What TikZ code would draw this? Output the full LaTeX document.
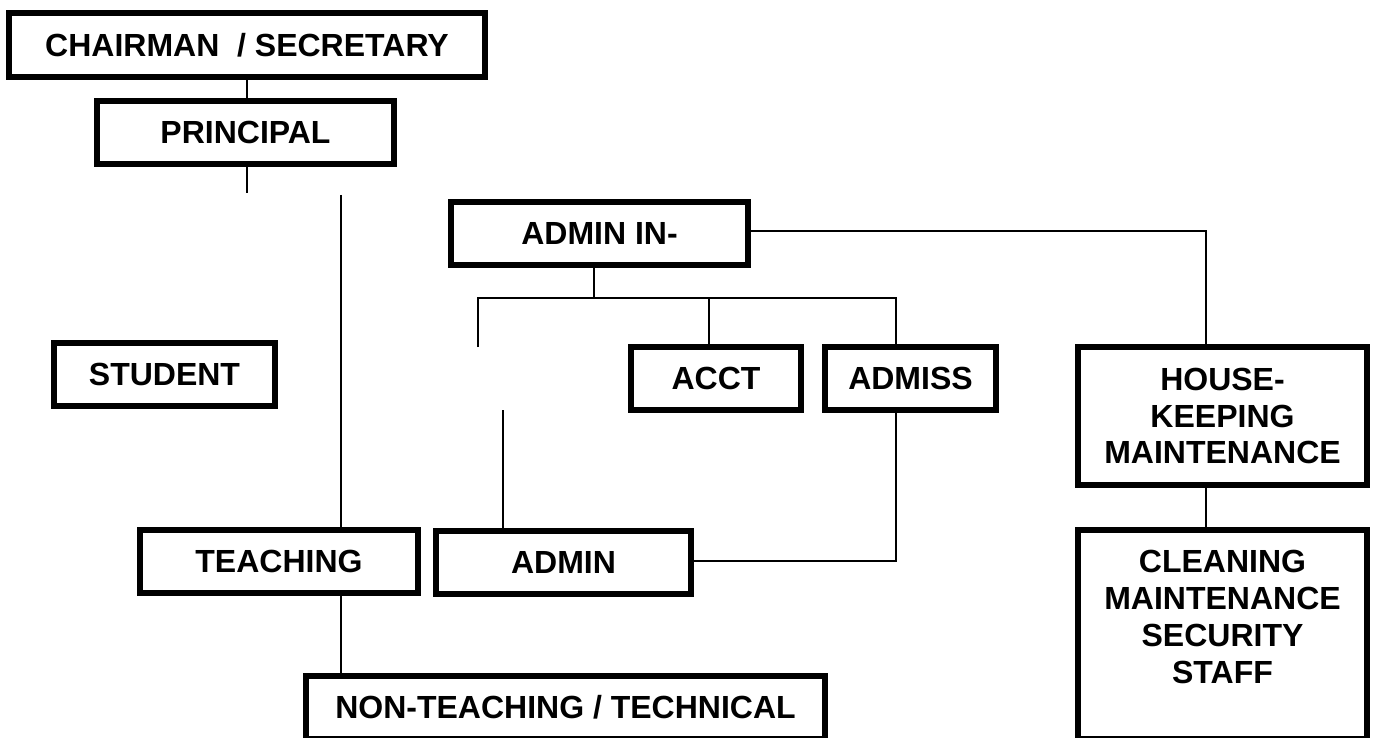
\documentclass[tikz,border=0pt]{standalone}
\usepackage{fontspec}
\setmainfont{Liberation Sans}
\begin{document}
\begin{tikzpicture}[x=1pt,y=-1pt,
  box/.style={draw=black, line width=6pt, fill=white, inner sep=0pt,
    font=\bfseries\fontsize{32}{36.5}\selectfont},
  multi/.style={align=center},
  link/.style={draw=black, line width=1.2pt}]
\useasboundingbox (0,0) rectangle (1374,738);
\clip (0,0) rectangle (1374,738);

% boxes
\node[box, minimum width=476pt, minimum height=64pt] (chair) at (247,45) {CHAIRMAN\ \ / SECRETARY};
\node[box, minimum width=297pt, minimum height=63pt] (princ) at (245.5,132.5) {PRINCIPAL};
\node[box, minimum width=221pt, minimum height=63pt] (student) at (164.5,374.5) {STUDENT};
\node[box, minimum width=297pt, minimum height=63pt] (adminin) at (599.5,233.5) {ADMIN IN-};
\node[box, minimum width=170pt, minimum height=63pt] (acct) at (716,378.5) {ACCT};
\node[box, minimum width=171pt, minimum height=63pt] (admiss) at (910.5,378.5) {ADMISS};
\node[box, multi, minimum width=289pt, minimum height=138pt] (house) at (1222.5,416) {HOUSE-\\KEEPING\\MAINTENANCE};
\node[box, minimum width=278pt, minimum height=63pt] (teach) at (279,561.5) {TEACHING};
\node[box, minimum width=255pt, minimum height=63pt] (admin) at (563.5,562.5) {ADMIN};
\node[box, minimum width=519pt, minimum height=63pt] (nonteach) at (565.5,707.5) {NON-TEACHING / TECHNICAL};
\node[box, minimum width=289pt, minimum height=209pt] (clean) at (1222.5,634.5) {};
\node[font=\bfseries\fontsize{32}{37}\selectfont, align=center, inner sep=0pt] (cleantext) at (1222.5,617) {CLEANING\\MAINTENANCE\\SECURITY\\STAFF};

% junction and end points of the connectors
\coordinate (pstub) at (247,193);
\coordinate (tstub) at (341,195);
\coordinate (hx) at (1206,231);
\coordinate (bm) at (594,298);
\coordinate (bl) at (478,298);
\coordinate (br) at (896,298);
\coordinate (ax) at (709,298);
\coordinate (lstub) at (478,347);
\coordinate (astub) at (503,410);
\coordinate (ac) at (896,561);

% connectors
\draw[link] (chair.south -| pstub) -- (pstub |- princ.north);
\draw[link] (princ.south -| pstub) -- (pstub);
\draw[link] (tstub) -- (tstub |- teach.north);
\draw[link] (teach.south -| tstub) -- (tstub |- nonteach.north);
\draw[link] (adminin.east |- hx) -- (hx) -- (hx |- house.north);
\draw[link] (hx |- house.south) -- (hx |- clean.north);
\draw[link] (bm |- adminin.south) -- (bm);
\draw[link] (lstub) -- (bl) -- (br) -- (br |- admiss.north);
\draw[link] (ax) -- (ax |- acct.north);
\draw[link] (astub) -- (astub |- admin.north);
\draw[link] (admin.east |- ac) -- (ac) -- (ac |- admiss.south);
\end{tikzpicture}
\end{document}
